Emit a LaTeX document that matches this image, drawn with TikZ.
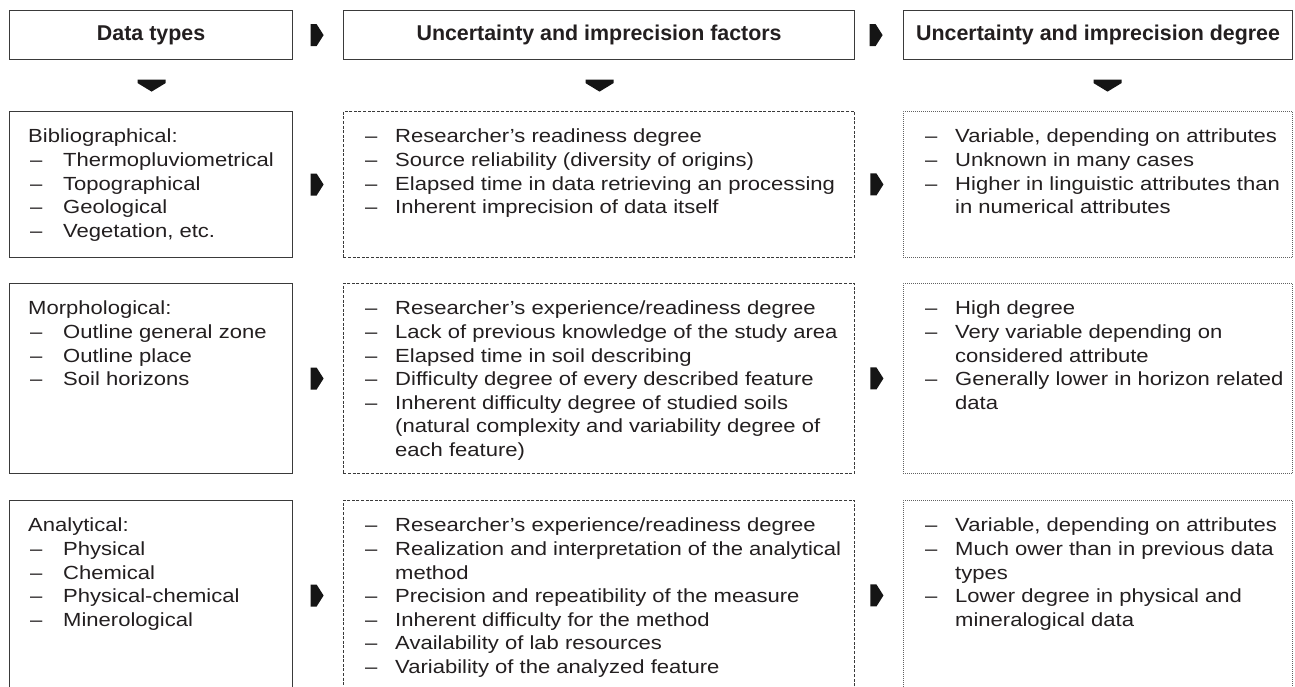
\documentclass[tikz,border=0pt]{standalone}
\usepackage{fontspec}
\setmainfont{Liberation Sans}[FakeStretch=1.16]
\newfontfamily\hdfont{Liberation Sans}
\usetikzlibrary{calc}
\definecolor{linec}{HTML}{3A3A3A}
\definecolor{textc}{HTML}{231F20}
\definecolor{arrowc}{HTML}{151515}
\newcommand\sstrut{\rule[-7.6pt]{0pt}{23.6pt}}
\newcommand\itm[1]{\makebox[30pt][l]{–}#1}
\newcommand\itmA[1]{\makebox[35pt][l]{\hspace{2pt}–}#1}
\newcommand\cnt[1]{\hspace*{30pt}#1}
\begin{document}
\begin{tikzpicture}[x=1pt,y=-1pt,
  solidbox/.style={draw=linec, line width=1.2pt, inner sep=0, anchor=north west},
  dashbox/.style={draw=linec, line width=0.9pt, dash pattern=on 3pt off 1.6pt, inner sep=0, anchor=north west},
  dotbox/.style={draw=linec!80, line width=0.9pt, dash pattern=on 0.9pt off 1.1pt, inner sep=0, anchor=north west},
  head/.style={inner sep=0, text=textc, font=\hdfont\bfseries\fontsize{21.4pt}{25pt}\selectfont},
  txt/.style={inner sep=0, anchor=north west, text=textc, align=left, font=\fontsize{19pt}{23.6pt}\selectfont},
  rarrow/.pic={\fill[arrowc] (-6.5,-11) -- (-0.5,-11) -- (6.5,0) -- (-0.5,11) -- (-6.5,11) -- cycle;},
  darrow/.pic={\fill[arrowc] (-14,-6) -- (14,-6) -- (14,-2.5) -- (0,6) -- (-14,-2.5) -- cycle;}
]
\clip (0,0) rectangle (1295,686);
\fill[white] (0,0) rectangle (1295,686);

% headers
\node[solidbox, minimum width=283pt, minimum height=49pt] (h1) at (9,10) {};
\node[solidbox, minimum width=511pt, minimum height=49pt] (h2) at (343,10) {};
\node[solidbox, minimum width=389pt, minimum height=49pt] (h3) at (903,10) {};
\node[head] (h1t) at (h1.center) {Data types};
\node[head] (h2t) at (h2.center) {Uncertainty and imprecision factors};
\node[head] (h3t) at (h3.center) {Uncertainty and imprecision degree};

% row boxes
\node[solidbox, minimum width=283pt, minimum height=146pt] (a1) at (9,111) {};
\node[dashbox, minimum width=511pt, minimum height=146pt] (b1) at (343,111) {};
\node[dotbox, minimum width=389pt, minimum height=146pt] (c1) at (903,111) {};
\node[solidbox, minimum width=283pt, minimum height=190pt] (a2) at (9,283) {};
\node[dashbox, minimum width=511pt, minimum height=190pt] (b2) at (343,283) {};
\node[dotbox, minimum width=389pt, minimum height=190pt] (c2) at (903,283) {};
\node[solidbox, minimum width=283pt, minimum height=190pt] (a3) at (9,500) {};
\node[dashbox, minimum width=511pt, minimum height=190pt] (b3) at (343,500) {};
\node[dotbox, minimum width=389pt, minimum height=190pt] (c3) at (903,500) {};

% arrows
\pic at ($(h1.east)!0.5!(h2.west)+(-1,0)$) {rarrow};
\pic at ($(h2.east)!0.5!(h3.west)+(-3,0)$) {rarrow};
\pic at ($(h1.south)!0.5!(a1.north)+(0.5,0)$) {darrow};
\pic at ($(h2.south)!0.5!(b1.north)+(0.5,0)$) {darrow};
\pic at ($(h3.south)!0.5!(c1.north)+(9.5,0)$) {darrow};
\foreach \r in {1,2,3}{
  \pic at ($(a\r.east)!0.5!(b\r.west)+(-1,0)$) {rarrow};
  \pic at ($(b\r.east)!0.5!(c\r.west)+(-2,0)$) {rarrow};
}

% texts row 1
\node[txt] (ta1) at ([xshift=19pt,yshift=-15.7pt]a1.north west) {\sstrut Bibliographical:\\
\itmA{Thermopluviometrical}\\ \itmA{Topographical}\\ \itmA{Geological}\\ \itmA{Vegetation, etc.}};
\node[txt] (tb1) at ([xshift=22pt,yshift=-15.7pt]b1.north west) {\sstrut\itm{Researcher’s readiness degree}\\
\itm{Source reliability (diversity of origins)}\\
\itm{Elapsed time in data retrieving an processing}\\
\itm{Inherent imprecision of data itself}};
\node[txt] (tc1) at ([xshift=22pt,yshift=-15.7pt]c1.north west) {\sstrut\itm{Variable, depending on attributes}\\
\itm{Unknown in many cases}\\
\itm{Higher in linguistic attributes than}\\
\cnt{in numerical attributes}};

% texts row 2
\node[txt] (ta2) at ([xshift=19pt,yshift=-15.7pt]a2.north west) {\sstrut Morphological:\\
\itmA{Outline general zone}\\ \itmA{Outline place}\\ \itmA{Soil horizons}};
\node[txt] (tb2) at ([xshift=22pt,yshift=-15.7pt]b2.north west) {\sstrut\itm{Researcher’s experience/readiness degree}\\
\itm{Lack of previous knowledge of the study area}\\
\itm{Elapsed time in soil describing}\\
\itm{Difficulty degree of every described feature}\\
\itm{Inherent difficulty degree of studied soils}\\
\cnt{(natural complexity and variability degree of}\\
\cnt{each feature)}};
\node[txt] (tc2) at ([xshift=22pt,yshift=-15.7pt]c2.north west) {\sstrut\itm{High degree}\\
\itm{Very variable depending on}\\
\cnt{considered attribute}\\
\itm{Generally lower in horizon related}\\
\cnt{data}};

% texts row 3
\node[txt] (ta3) at ([xshift=19pt,yshift=-15.7pt]a3.north west) {\sstrut Analytical:\\
\itmA{Physical}\\ \itmA{Chemical}\\ \itmA{Physical-chemical}\\ \itmA{Minerological}};
\node[txt] (tb3) at ([xshift=22pt,yshift=-15.7pt]b3.north west) {\sstrut\itm{Researcher’s experience/readiness degree}\\
\itm{Realization and interpretation of the analytical}\\
\cnt{method}\\
\itm{Precision and repeatibility of the measure}\\
\itm{Inherent difficulty for the method}\\
\itm{Availability of lab resources}\\
\itm{Variability of the analyzed feature}};
\node[txt] (tc3) at ([xshift=22pt,yshift=-15.7pt]c3.north west) {\sstrut\itm{Variable, depending on attributes}\\
\itm{Much ower than in previous data}\\
\cnt{types}\\
\itm{Lower degree in physical and}\\
\cnt{mineralogical data}};
\end{tikzpicture}
\end{document}
